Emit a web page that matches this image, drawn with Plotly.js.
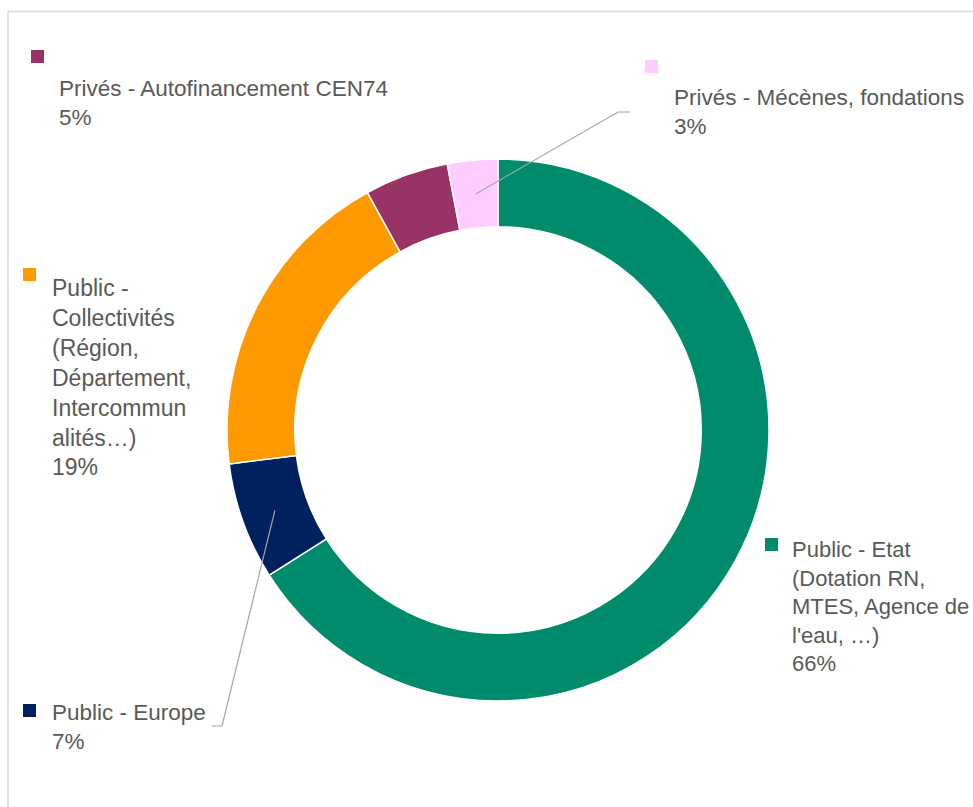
<!DOCTYPE html>
<html><head><meta charset="utf-8">
<script src="https://cdn.plot.ly/plotly-3.0.1.min.js"></script>
<style>html,body{margin:0;padding:0;background:#fff}#chart{width:973px;height:807px}</style>
</head><body><div id="chart"></div>
<script>
// ---- data ----
const categories = [
  "Public - Etat (Dotation RN, MTES, Agence de l'eau, …)",
  "Public - Europe",
  "Public - Collectivités (Région, Département, Intercommunalités…)",
  "Privés - Autofinancement CEN74",
  "Privés - Mécènes, fondations"
];
const labelLines = [
  ["Public - Etat", "(Dotation RN,", "MTES, Agence de", "l'eau, …)"],
  ["Public - Europe"],
  ["Public -", "Collectivités", "(Région,", "Département,", "Intercommun", "alités…)"],
  ["Privés - Autofinancement CEN74"],
  ["Privés - Mécènes, fondations"]
];
const values = [66, 7, 19, 5, 3];
const colors = ["#008C6C", "#002060", "#FF9900", "#993366", "#FFCCFF"];

// ---- layout helpers (pixels -> paper) ----
const W = 973, H = 807;
const px = x => x / W, py = y => 1 - y / H;
const CX = 498, CY = 430, R = 271, HOLE = 0.75;

// label placement (styling)
const labelPos = [
  {x: 790, y: 606, sq: [765, 538], size: 22},
  {x: 50, y: 727, sq: [23, 704], size: 22.5},
  {x: 50, y: 378, sq: [23, 268], size: 23},
  {x: 57, y: 103, sq: [31, 50], size: 22.5},
  {x: 672, y: 112, sq: [645, 60], size: 22.5}
];
// leader lines: elbow points (px) for slices that have one
const leaders = {1: [[212, 726], [222, 726]], 4: [[630, 112], [618, 112]]};

const total = values.reduce((a, b) => a + b, 0);
const pct = values.map(v => Math.round(v / total * 100) + "%");

const annotations = [];
const shapes = [];
// frame (top & left visible)
shapes.push({type: 'line', xref: 'paper', yref: 'paper', x0: px(8), x1: 1, y0: py(11.5), y1: py(11.5), line: {color: '#D9D9D9', width: 1.5}});
shapes.push({type: 'line', xref: 'paper', yref: 'paper', x0: px(8), x1: px(8), y0: py(11.5), y1: 0, line: {color: '#D9D9D9', width: 1.5}});

let cum = 0;
values.forEach((v, i) => {
  const p = labelPos[i];
  annotations.push({
    xref: 'paper', yref: 'paper', x: px(p.x), y: py(p.y),
    xanchor: 'left', yanchor: 'middle', align: 'left', showarrow: false,
    text: labelLines[i].concat([pct[i]]).join('<br>'),
    font: {family: 'Liberation Sans, Arial, sans-serif', size: p.size, color: '#595959'}
  });
  shapes.push({type: 'rect', xref: 'paper', yref: 'paper',
    x0: px(p.sq[0]), x1: px(p.sq[0] + 13), y0: py(p.sq[1]), y1: py(p.sq[1] + 13),
    fillcolor: colors[i], line: {width: 0}});
  const mid = (cum + v / 2) / total * 2 * Math.PI;
  cum += v;
  if (leaders[i]) {
    const rm = R * (1 + HOLE) / 2;
    const ex = CX + rm * Math.sin(mid), ey = CY - rm * Math.cos(mid);
    const pts = leaders[i].concat([[ex, ey]]);
    const path = pts.map((q, k) => (k ? 'L' : 'M') + px(q[0]) + ',' + py(q[1])).join(' ');
    shapes.push({type: 'path', xref: 'paper', yref: 'paper', path: path, line: {color: '#A6A6A6', width: 1.2}});
  }
});

const trace = {
  type: 'pie', values: values, labels: categories, hole: HOLE,
  sort: false, direction: 'clockwise', rotation: 0,
  marker: {colors: colors, line: {color: '#FFFFFF', width: 1.5}},
  textinfo: 'none', hoverinfo: 'label+percent',
  domain: {x: [px(CX - R), px(CX + R)], y: [py(CY + R), py(CY - R)]}
};

Plotly.newPlot('chart', [trace], {
  width: W, height: H, margin: {l: 0, r: 0, t: 0, b: 0},
  showlegend: false, paper_bgcolor: '#FFFFFF',
  annotations: annotations, shapes: shapes
}, {staticPlot: true});
</script>
</body></html>
